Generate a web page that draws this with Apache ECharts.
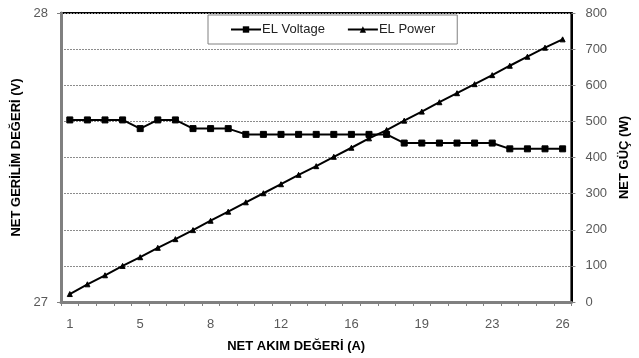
<!DOCTYPE html>
<html>
<head>
<meta charset="utf-8">
<script src="https://cdn.jsdelivr.net/npm/echarts@6/dist/echarts.min.js"></script>
<style>
  html, body { margin: 0; padding: 0; background: #fff; }
  #chart { width: 639px; height: 358px; }
</style>
</head>
<body>
<div id="chart"></div>
<script>
// current (A) for each measurement, shown rounded on the x axis
var currents = [0.8, 1.8, 2.7, 3.6, 4.5, 5.4, 6.3, 7.2, 8.15, 9.1, 10.0, 10.9, 11.8, 12.8, 13.6,
  14.6, 15.5, 16.4, 17.3, 18.2, 19.1, 20.1, 21.0, 21.9, 22.8, 23.7, 24.7, 25.6, 26.4]
// EL voltage (V)
var voltage = [27.63, 27.63, 27.63, 27.63, 27.60, 27.63, 27.63, 27.60, 27.60, 27.60, 27.58, 27.58,
  27.58, 27.58, 27.58, 27.58, 27.58, 27.58, 27.58, 27.55, 27.55, 27.55, 27.55, 27.55, 27.55,
  27.53, 27.53, 27.53, 27.53]
// EL power (W)
var power = [22, 49, 74, 100, 124, 150, 174, 199, 225, 250, 276, 301, 326, 352, 376, 402, 427,
  453, 476, 502, 527, 553, 578, 603, 628, 654, 679, 704, 727]

var font = 'Liberation Sans'
var labelColor = '#595959'

var chart = echarts.init(document.getElementById('chart'))
chart.setOption({
  animation: false,
  grid: {
    left: 61,
    right: 62,
    top: 13,
    bottom: 56,
    show: true,
    borderColor: '#000',
    borderWidth: 2,
    backgroundColor: '#fff'
  },
  legend: {
    top: 15,
    left: 208,
    padding: [8, 22, 8, 22],
    itemGap: 22,
    itemWidth: 30,
    itemHeight: 8,
    backgroundColor: '#fff',
    borderColor: '#808080',
    borderWidth: 1,
    textStyle: { fontFamily: font, fontSize: 13, color: '#222', padding: [0, 0, 0, -4] },
    data: ['EL Voltage', 'EL Power']
  },
  xAxis: {
    type: 'category',
    data: currents,
    boundaryGap: true,
    name: 'NET AKIM DEĞERİ (A)',
    nameLocation: 'middle',
    nameGap: 38,
    nameTextStyle: { fontFamily: font, fontSize: 13, fontWeight: 'bold', color: '#000', padding: [0, 40, 0, 0] },
    axisLine: { lineStyle: { color: '#808080', width: 3 } },
    axisTick: { show: true, interval: 0, length: 4, lineStyle: { color: '#808080' } },
    axisLabel: {
      interval: 3,
      margin: 16,
      fontFamily: font,
      fontSize: 13,
      color: labelColor,
      formatter: function (v) { return Math.round(Number(v)) }
    },
    splitLine: { show: false }
  },
  yAxis: [
    {
      type: 'value',
      min: 27,
      max: 28,
      interval: 1,
      position: 'left',
      name: 'NET GERİLİM DEĞERİ (V)',
      nameLocation: 'middle',
      nameGap: 37,
      nameTextStyle: { fontFamily: font, fontSize: 13, fontWeight: 'bold', color: '#000' },
      axisLine: { show: true, lineStyle: { color: '#808080', width: 3 } },
      axisTick: { show: true, length: 4, lineStyle: { color: '#808080' } },
      axisLabel: { fontFamily: font, fontSize: 13, color: labelColor, margin: 13 },
      splitLine: { show: false }
    },
    {
      type: 'value',
      min: 0,
      max: 800,
      interval: 100,
      position: 'right',
      name: 'NET GÜÇ (W)',
      nameLocation: 'middle',
      nameGap: 37,
      nameTextStyle: { fontFamily: font, fontSize: 13, fontWeight: 'bold', color: '#000' },
      axisLine: { show: true, lineStyle: { color: '#000', width: 2 } },
      axisTick: { show: true, length: 4, lineStyle: { color: '#808080' } },
      axisLabel: { fontFamily: font, fontSize: 13, color: labelColor, margin: 14 },
      splitLine: { show: true, lineStyle: { color: '#8c8c8c', type: [2, 1], width: 1 } }
    }
  ],
  series: [
    {
      name: 'EL Voltage',
      type: 'line',
      yAxisIndex: 0,
      data: voltage,
      symbol: 'rect',
      symbolSize: 6,
      showAllSymbol: true,
      lineStyle: { color: '#000', width: 2 },
      itemStyle: { color: '#000', borderColor: '#000' }
    },
    {
      name: 'EL Power',
      type: 'line',
      yAxisIndex: 1,
      data: power,
      symbol: 'triangle',
      symbolSize: 5,
      showAllSymbol: true,
      lineStyle: { color: '#000', width: 2 },
      itemStyle: { color: '#000', borderColor: '#000' }
    }
  ]
})
</script>
</body>
</html>
